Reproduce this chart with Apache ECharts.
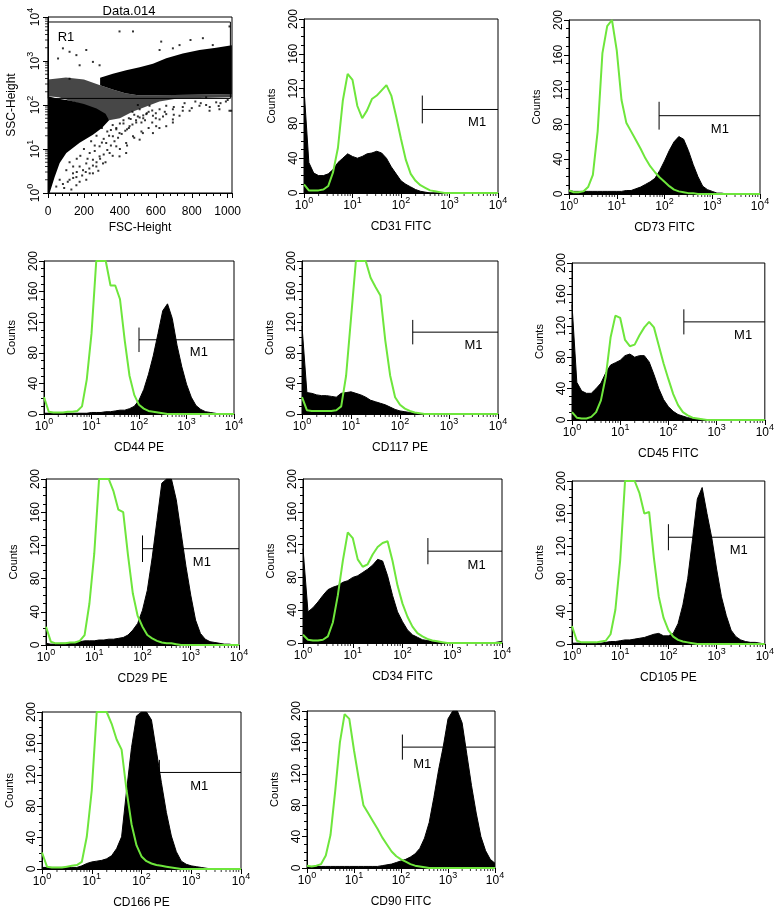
<!DOCTYPE html>
<html><head><meta charset="utf-8">
<script src="https://cdn.jsdelivr.net/npm/echarts@6/dist/echarts.min.js"></script>
<style>html,body{margin:0;padding:0;background:#fff}#c{width:777px;height:910px}</style>
</head><body><div id="c"></div>
<script>
// ---------- DATA ----------
// histogram channel positions, in decades (10^d)
const decades = [0,0.1,0.2,0.3,0.4,0.5,0.6,0.7,0.8,0.9,1,1.1,1.2,1.3,1.4,1.5,1.6,1.7,1.8,1.9,2,2.1,2.2,2.3,2.4,2.5,2.6,2.7,2.8,2.9,3,3.1,3.2,3.3,3.4,3.5,3.6,3.7,3.8,3.9,4];
const minorLogTicks = [2,3,4,5,6,7,8,9,20,30,40,50,60,70,80,90,200,300,400,500,600,700,800,900,2000,3000,4000,5000,6000,7000,8000,9000];

const cd31Green  = [10,3,3,3,4,8,24,52,106,137, 130,100,86,95,108,112,118,124,112,88, 62,38,22,14,9,6,3,2,1,0, 0,0,0,0,0,0,0,0,0,0, 0];
const cd31Black  = [120,35,23,20,20,22,27,35,40,45, 42,40,42,45,46,48,46,40,30,22, 14,10,7,4,2,1,0,0,0,0, 0,0,0,0,0,0,0,0,0,0, 0];
const cd73Green  = [4,2,2,3,8,22,72,162,193,200, 165,108,82,72,62,52,41,32,25,19, 14,9,5,3,2,1,1,0,0,0, 0,0,0,0,0,0,0,0,0,0, 0];
const cd73Black  = [4,3,3,3,3,3,3,3,3,3, 3,3,4,4,6,8,11,14,18,27, 38,50,60,66,63,50,34,20,9,5, 3,1,1,0,0,0,0,0,0,0, 0];
const cd44Green  = [22,3,2,2,2,3,3,4,10,45, 105,200,200,200,168,168,150,96,50,25, 12,7,4,3,2,1,0,0,0,0, 0,0,0,0,0,0,0,0,0,0, 0];
const cd44Black  = [1,1,1,1,1,1,1,1,1,1, 2,2,2,3,3,4,5,5,7,10, 18,32,52,76,105,135,144,125,90,62, 39,22,11,6,3,2,1,0,0,0, 0];
const cd117Green = [22,5,4,4,4,4,4,5,10,50, 125,200,200,200,178,166,155,96,50,22, 12,7,4,2,1,0,0,0,0,0, 0,0,0,0,0,0,0,0,0,0, 0];
const cd117Black = [115,28,27,25,24,24,23,22,27,28, 29,27,25,22,18,16,14,12,9,6, 4,3,2,1,0,0,0,0,0,0, 0,0,0,0,0,0,0,0,0,0, 0];
const cd45Green  = [10,3,2,2,4,10,25,55,105,133, 130,102,94,96,108,118,125,118,95,72, 52,33,19,10,6,3,2,1,0,0, 0,0,0,0,0,0,0,0,0,0, 0];
const cd45Black  = [147,48,37,34,34,40,47,60,70,73, 76,82,84,80,82,82,74,58,40,26, 17,11,7,5,3,2,1,0,0,0, 0,0,0,0,0,0,0,0,0,0, 0];
const cd29Green  = [22,4,2,2,2,3,3,5,12,50, 110,200,200,200,185,163,160,108,62,35, 22,12,8,5,3,2,2,1,0,0, 0,0,0,0,0,0,0,0,0,0, 0];
const cd29Black  = [2,1,1,2,2,2,3,4,5,5, 5,6,6,7,7,8,9,12,18,26, 42,66,105,150,195,200,200,175,135,95, 60,30,14,7,4,3,2,1,1,0, 0];
const cd34Green  = [10,4,3,3,4,8,25,58,100,135, 128,102,93,96,108,117,122,124,100,70, 48,32,20,12,8,5,3,2,1,0, 0,0,0,0,0,0,0,0,0,0, 0];
const cd34Black  = [115,38,43,50,58,65,68,70,74,76, 80,82,86,90,95,102,100,82,58,38, 26,16,10,7,4,3,2,1,0,0, 0,0,0,0,0,0,0,0,0,1, 2];
const cd105Green = [22,4,2,2,2,2,3,4,12,42, 103,200,200,200,185,160,162,105,58,32, 17,9,5,3,2,1,0,0,0,0, 0,0,0,0,0,0,0,0,0,0, 0];
const cd105Black = [1,1,1,1,1,1,1,2,3,3, 4,5,5,6,7,8,10,12,13,10, 10,13,25,48,80,128,178,192,160,130, 92,58,35,17,9,5,3,2,2,1, 0];
const cd166Green = [21,3,2,2,2,3,4,5,9,41, 100,200,200,200,185,165,152,100,57,30, 16,10,7,5,4,3,2,1,0,0, 0,0,0,0,0,0,0,0,0,0, 0];
const cd166Black = [2,2,2,2,2,2,2,2,4,7, 9,10,11,13,17,26,41,100,155,195, 200,200,190,150,110,72,42,22,10,6, 4,3,2,1,0,0,0,0,0,0, 0];
const cd90Green  = [3,2,3,5,16,42,98,160,196,190, 150,114,80,70,60,50,39,30,21,15, 11,8,5,3,2,1,0,0,0,0, 0,0,0,0,0,0,0,0,0,0, 0];
const cd90Black  = [1,2,2,2,2,2,2,2,2,2, 2,2,2,2,2,2,3,4,5,7, 9,11,14,18,25,38,58,90,125,155, 190,200,200,185,145,105,70,40,22,11, 6];

const panelNames = ['CD31 FITC','CD73 FITC','CD44 PE','CD117 PE','CD45 FITC','CD29 PE','CD34 FITC','CD105 PE','CD166 PE','CD90 FITC'];
const greenSets = [cd31Green,cd73Green,cd44Green,cd117Green,cd45Green,cd29Green,cd34Green,cd105Green,cd166Green,cd90Green];
const blackSets = [cd31Black,cd73Black,cd44Black,cd117Black,cd45Black,cd29Black,cd34Black,cd105Black,cd166Black,cd90Black];
// M1 marker: start channel, count level, label position
const markerStart  = [275,77,100,182,209,100,324,100,229,107];
const markerLevel  = [96,90,97,107,125,116,112,131,123,154];
const markerLabelX = [3715,1445,1820,3162,3548,1698,3090,2884,1445,282];
const markerLabelY = [81,74,80,89,108,100,95,115,105,132];

// scatter plot (FSC-Height linear, SSC-Height log)
const fscTicks = [0,200,400,600,800,1000];
const archFsc = [0,9,37,65,102,176,250,300,340,320,270,200,120,50,0];
const archSsc = [1,1,2.3,4.8,8.1,13.8,21,30,45,63,83,105,126,141,158];
const bandFsc = [290,360,430,500,600,800,1023,1023,936,843,750,658,584,510,435,361,290];
const bandSsc = [282,224,186,166,166,170,178,2290,2000,1780,1480,1150,870,724,617,513,417];
const hazeFsc = [0,60,200,280,340,400,470,540,620,720,1023,1023,800,600,500,430,360,290,200,100,0];
const hazeSsc = [158,150,100,70,45,50,70,90,120,140,150,178,170,166,166,186,224,282,380,420,380];
const dotFsc = [510,547,584,621,658,695,732,602,528,473,435,380,343,287,250,213,195,158,120,83,398,454,491,565,658,695,750,621,324,361,287,232,176,139,102,65,46,232,269,306,213,176,158,250,843,899,788,936,1010,435,398,510,584,658,695,
  398,473,56,83,120,158,213,120,176,250,287,630,793,917,1010,621,695,732,862,954,1019,880,
  300,330,360,420,450,380,270,240,200,180,160,140,120,260,310,350,400,440,480,520,560,600,640,700,760,820,880,960,1000,500,470,530,580,620,
  190,210,230,250,270,290,310,330,350,370,390,410,430,450,470,490,510,530,550,580,220,260,300,340,380,420,460,500,540,600,650,700,750,800,850,900,950,990,160,140,110,90,130,280,320,360,400,440,480,520,560];
const dotSsc = [80,62,57,47,62,47,57,33,23,19.5,13.7,11.5,8.1,6.8,5.7,4.7,3.3,2.3,2.0,1.6,23,33,40,96,96,80,74,80,13.7,19.5,11.5,8.1,4.0,2.8,3.3,2.0,1.4,2.8,4.0,4.7,2.0,1.8,1.5,2.8,96,74,74,115,74,8.1,6.8,16.3,23,33,40,
  4700,4700,1140,1940,1620,1360,1780,395,800,955,800,2760,3000,2300,6100,1780,1940,2300,3300,80,74,149,
  30,25,35,45,50,28,20,15,10,7,6,4,5,12,17,27,38,28,60,40,70,65,55,90,110,120,100,110,130,100,70,50,40,30,
  2.5,3,3.6,4.2,5,6,7.5,9.5,12,15,18,22,26,30,36,45,52,58,65,75,6,9,14,20,30,38,48,55,45,50,70,60,90,85,110,90,95,120,3,2.2,1.8,1.3,1.2,3.2,5,7,10,12,18,25,30];
const gateFsc = [1,1015,1015,1,1];
const gateSsc = [141,141,7700,7700,141];
const gateLabel = [100,3400];

// ---------- LAYOUT / STYLE ----------
const FONT = '"Liberation Sans", Arial, Helvetica, sans-serif';
const GREEN = '#6ee63c';
const CLEAR = 'rgba(0,0,0,0)';
const boxes = [
  [48,17,184,176],
  [304,19,194,174],[569,20,191,174],
  [44,261,190,153],[302,261,196,153],[572,263,194,157],
  [46,479,193,166],[303,479,199,164],[572,481,194,163],
  [42,712,199,157],[307,711,188,157]
];
const rich = {
  b:{fontSize:12,fontFamily:FONT,color:'#000',lineHeight:16,verticalAlign:'bottom'},
  s:{fontSize:9,fontFamily:FONT,color:'#000',lineHeight:16,verticalAlign:'top'}
};
function powLabel(v){ return '{b|10}{s|' + Math.round(Math.log10(v)) + '}'; }

const grid = boxes.map(b => ({left:b[0],top:b[1],width:b[2],height:b[3],show:true,borderColor:'#000',borderWidth:1,backgroundColor:CLEAR,containLabel:false}));
const xAxis = [], yAxis = [], series = [];
const axisLine = {show:true,lineStyle:{color:'#000',width:1}};

// scatter panel axes
xAxis.push({type:'value',gridIndex:0,min:0,max:1024,interval:200,axisLine,
  axisTick:{show:true,length:5,lineStyle:{color:'#000'}},
  minorTick:{show:true,splitNumber:5,length:3,lineStyle:{color:'#000'}},
  axisLabel:{fontSize:12,fontFamily:FONT,color:'#000',margin:13,showMaxLabel:false,
    formatter:v => fscTicks.indexOf(v) >= 0 ? String(v) : ''},
  splitLine:{show:false},name:'FSC-Height',nameLocation:'middle',nameGap:29,
  nameTextStyle:{fontSize:12,fontFamily:FONT,color:'#000'}});
yAxis.push({type:'log',logBase:10,gridIndex:0,min:1,max:10000,axisLine,
  axisTick:{show:true,length:5,lineStyle:{color:'#000'}},
  axisLabel:{rotate:90,formatter:powLabel,rich,margin:6},
  splitLine:{show:false},name:'SSC-Height',nameLocation:'middle',nameGap:30,nameRotate:90,
  nameTextStyle:{fontSize:12,fontFamily:FONT,color:'#000'}});

function polygon(xs, ys, color, opacity){
  return {type:'custom',xAxisIndex:0,yAxisIndex:0,silent:true,clip:true,
    data: xs.map((x,i)=>[x,ys[i]]), encode:{x:0,y:1},
    renderItem:(params, api) => {
      if (params.dataIndex !== 0) return null;
      const pts = xs.map((x,i)=>api.coord([x,ys[i]]));
      return {type:'polygon',shape:{points:pts},style:{fill:color,opacity:opacity}};
    }};
}
function textMark(xi, yi, pos, txt){
  return {type:'scatter',xAxisIndex:xi,yAxisIndex:yi,symbol:'circle',symbolSize:1,silent:true,
    itemStyle:{color:CLEAR},data:[pos],
    label:{show:true,position:'inside',formatter:txt,fontSize:13,fontFamily:FONT,color:'#000',
      fontWeight:'normal',textBorderWidth:0,textShadowBlur:0,opacity:1}};
}
series.push(polygon(hazeFsc,hazeSsc,'#000',0.72));
series.push(polygon(archFsc,archSsc,'#000',1));
series.push(polygon(bandFsc,bandSsc,'#000',1));
series.push({type:'scatter',xAxisIndex:0,yAxisIndex:0,symbol:'rect',symbolSize:2,silent:true,
  itemStyle:{color:'#000'},data:dotFsc.map((x,i)=>[x,dotSsc[i]])});
series.push({type:'line',xAxisIndex:0,yAxisIndex:0,symbol:'none',silent:true,
  lineStyle:{color:'#000',width:1},data:gateFsc.map((x,i)=>[x,gateSsc[i]])});
series.push(textMark(0,0,gateLabel,'R1'));
series.push({type:'scatter',xAxisIndex:0,yAxisIndex:0,symbol:'rect',symbolSize:[3,1],symbolOffset:[-1.5,0],clip:false,silent:true,
  itemStyle:{color:'#000'},data:minorLogTicks.map(v=>[0,v])});

// histogram panels
for (let p = 0; p < 10; p++) {
  const g = p + 1;
  xAxis.push({type:'log',logBase:10,gridIndex:g,min:1,max:10000,axisLine,
    axisTick:{show:true,length:5,lineStyle:{color:'#000'}},
    axisLabel:{formatter:powLabel,rich,margin:3},
    splitLine:{show:false},name:panelNames[p],nameLocation:'middle',nameGap:28,
    nameTextStyle:{fontSize:12,fontFamily:FONT,color:'#000'}});
  yAxis.push({type:'value',gridIndex:g,min:0,max:200,interval:40,axisLine,
    axisTick:{show:true,length:5,lineStyle:{color:'#000'}},
    minorTick:{show:true,splitNumber:4,length:3,lineStyle:{color:'#000'}},
    axisLabel:{rotate:90,fontSize:12,fontFamily:FONT,color:'#000',margin:4},
    splitLine:{show:false},name:'Counts',nameLocation:'middle',nameGap:27,nameRotate:90,
    nameTextStyle:{fontSize:11,fontFamily:FONT,color:'#000'}});
  const blk = blackSets[p], grn = greenSets[p];
  series.push({type:'line',xAxisIndex:g,yAxisIndex:g,symbol:'none',silent:true,
    lineStyle:{color:'#000',width:1},areaStyle:{color:'#000',opacity:1},
    data:decades.map((d,k)=>[Math.pow(10,d),blk[k]])});
  series.push({type:'line',xAxisIndex:g,yAxisIndex:g,symbol:'none',silent:true,
    lineStyle:{color:GREEN,width:2},
    data:decades.map((d,k)=>[Math.pow(10,d),grn[k]])});
  const ms = markerStart[p], ml = markerLevel[p];
  series.push({type:'line',xAxisIndex:g,yAxisIndex:g,symbol:'none',silent:true,
    lineStyle:{color:'#000',width:1},data:[[ms,ml],[10000,ml]]});
  series.push({type:'line',xAxisIndex:g,yAxisIndex:g,symbol:'none',silent:true,
    lineStyle:{color:'#000',width:1},data:[[ms,ml-16],[ms,ml+16]]});
  series.push(textMark(g,g,[markerLabelX[p],markerLabelY[p]],'M1'));
  series.push({type:'scatter',xAxisIndex:g,yAxisIndex:g,symbol:'rect',symbolSize:[1,3],symbolOffset:[0,1.5],clip:false,silent:true,
    itemStyle:{color:'#000'},data:minorLogTicks.map(v=>[v,0])});
}

const chart = echarts.init(document.getElementById('c'), null, {renderer:'canvas'});
chart.setOption({
  animation:false,
  backgroundColor:'#fff',
  textStyle:{fontFamily:FONT,color:'#000'},
  title:[{text:'Data.014',left:124,top:0,textAlign:'center',
    textStyle:{fontSize:13,fontWeight:'normal',fontFamily:FONT,color:'#000'}}],
  grid, xAxis, yAxis, series
});
</script></body></html>
